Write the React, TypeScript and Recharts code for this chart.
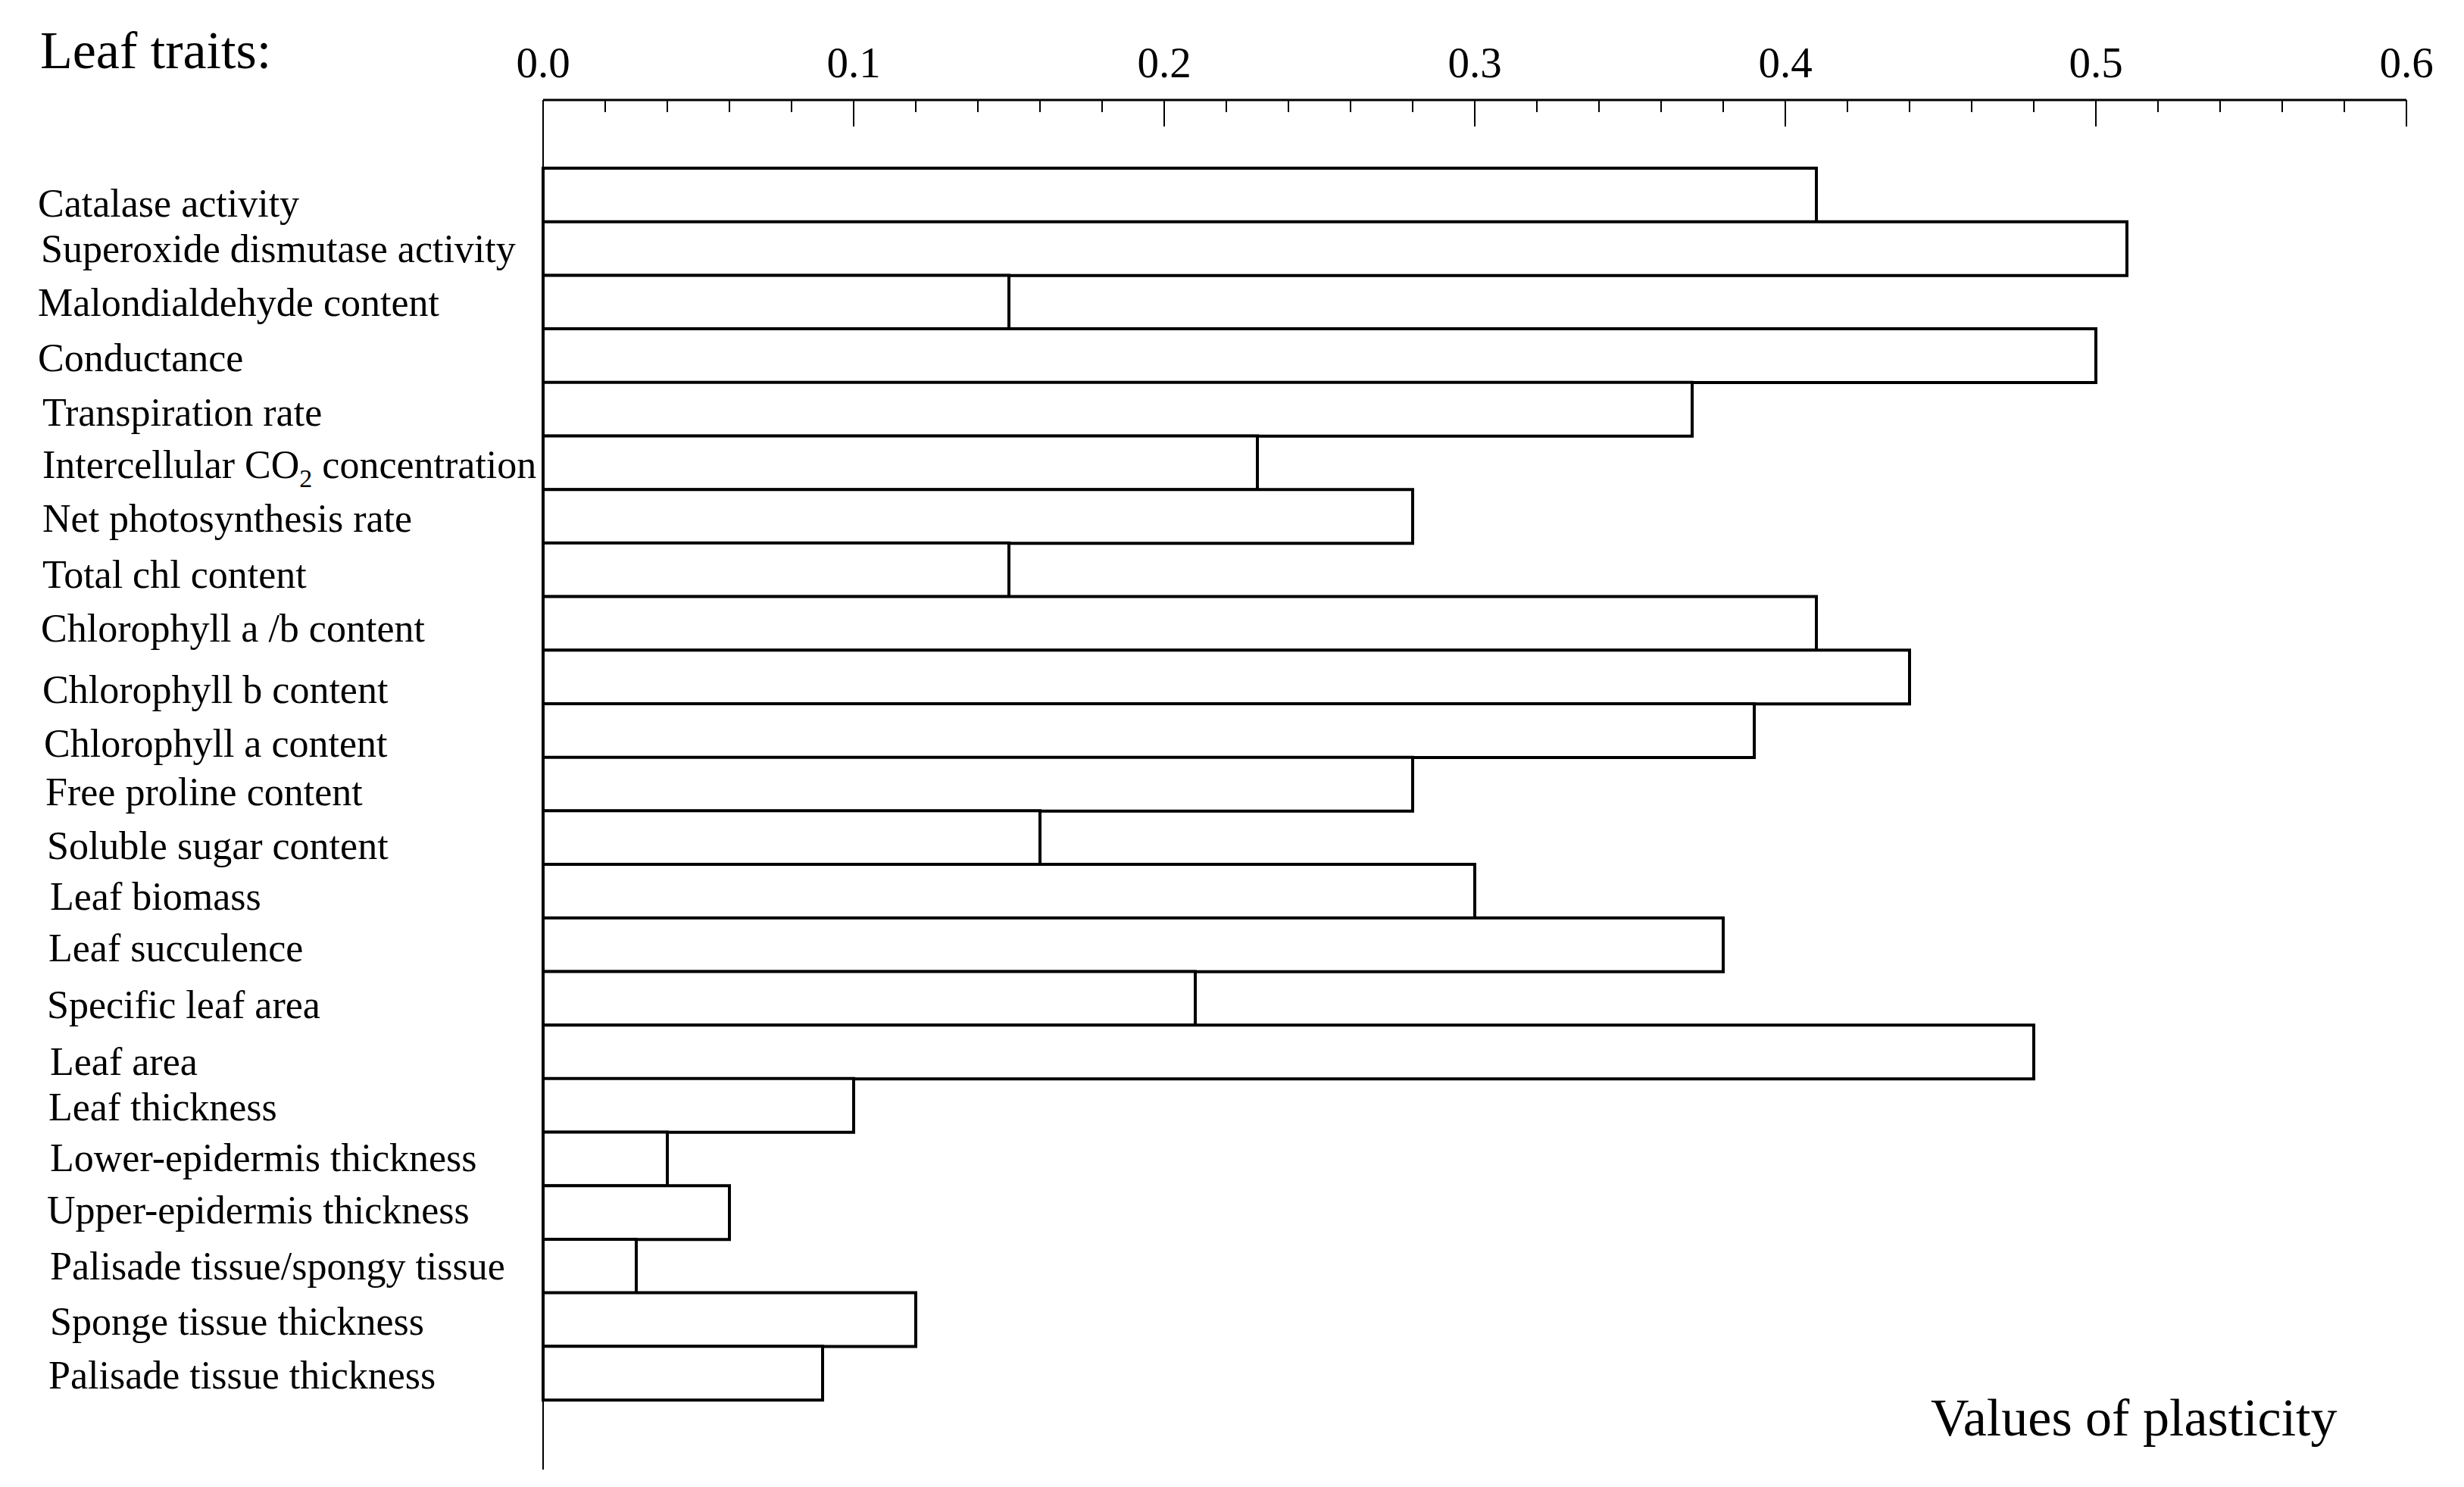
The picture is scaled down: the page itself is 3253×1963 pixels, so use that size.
import { Bar, BarChart, XAxis, YAxis } from "recharts";

const traits = [
  "Catalase activity",
  "Superoxide dismutase activity",
  "Malondialdehyde content",
  "Conductance",
  "Transpiration rate",
  "Intercellular CO2 concentration",
  "Net photosynthesis rate",
  "Total chl content",
  "Chlorophyll a /b content",
  "Chlorophyll b content",
  "Chlorophyll a content",
  "Free proline content",
  "Soluble sugar content",
  "Leaf biomass",
  "Leaf succulence",
  "Specific leaf area",
  "Leaf area",
  "Leaf thickness",
  "Lower-epidermis thickness",
  "Upper-epidermis thickness",
  "Palisade tissue/spongy tissue",
  "Sponge tissue thickness",
  "Palisade tissue thickness",
];

const plasticity = [
  0.41, 0.51, 0.15, 0.5, 0.37, 0.23, 0.28, 0.15, 0.41, 0.44, 0.39, 0.28, 0.16,
  0.3, 0.38, 0.21, 0.48, 0.1, 0.04, 0.06, 0.03, 0.12, 0.09,
];

const majorTicks = [0, 0.1, 0.2, 0.3, 0.4, 0.5, 0.6];
const minorPerMajor = 5;

// hand-placed labels in the original sit a little off the band centres
const labelShiftX = [-5, -1, -5, -5, 1, 1, 1, 1, -1, 1, 3, 5, 7, 11, 9, 7, 11, 9, 11, 7, 11, 11, 9];
const labelShiftY = [10, 0, 0, 2, 4, 2, 2, 6, 6, 16, 16, 10, 10, 6, 4, 8, 12, 2, -2, -4, 0, 2, 2];

const xTicks: number[] = [];
majorTicks.forEach((t, i) => {
  if (i === majorTicks.length - 1) {
    xTicks.push(t);
    return;
  }
  const step = (majorTicks[i + 1] - t) / minorPerMajor;
  for (let k = 0; k < minorPerMajor; k++) xTicks.push(+(t + k * step).toFixed(4));
});

const data = traits.map((name, i) => ({ name, value: plasticity[i] }));

const FONT = '"Liberation Serif", "Times New Roman", serif';
const W = 3253;
const H = 1963;

function XTick(props: any) {
  const { x, y, payload } = props;
  const v = payload.value as number;
  const major = majorTicks.some((m) => Math.abs(m - v) < 1e-6);
  return (
    <g>
      <line x1={x} x2={x} y1={y} y2={y + (major ? 35 : 16)} stroke="#000" strokeWidth={2} />
      {major && (
        <text x={x} y={y - 30} textAnchor="middle" fontFamily={FONT} fontSize={57} fill="#000">
          {v.toFixed(1)}
        </text>
      )}
    </g>
  );
}

function YTick(props: any) {
  const { x, y, payload, index } = props;
  const name = payload.value as string;
  const left = x - 662 + (labelShiftX[index] ?? 0);
  const ty = y + (labelShiftY[index] ?? 0);
  if (name.includes("CO2")) {
    const [a, b] = name.split("CO2");
    return (
      <text x={left} y={ty} dy="0.35em" fontFamily={FONT} fontSize={52} fill="#000">
        <tspan>{a}CO</tspan>
        <tspan dy={12} fontSize={34}>2</tspan>
        <tspan dy={-12}>{b}</tspan>
      </text>
    );
  }
  return (
    <text x={left} y={ty} dy="0.35em" fontFamily={FONT} fontSize={52} fill="#000">
      {name}
    </text>
  );
}

export default function App() {
  return (
    <div style={{ position: "absolute", left: 0, top: 0, width: W, height: H, background: "#fff" }}>
      <BarChart
        width={W}
        height={H}
        data={data}
        layout="vertical"
        barCategoryGap={0}
        margin={{ top: 0, right: 76, bottom: 23, left: 0 }}
      >
        <XAxis
          type="number"
          orientation="top"
          domain={[0, 0.6]}
          ticks={xTicks}
          interval={0}
          height={132}
          tickSize={0}
          tickMargin={0}
          tickLine={false}
          axisLine={{ stroke: "#000", strokeWidth: 3 }}
          tick={<XTick />}
        />
        <YAxis
          type="category"
          dataKey="name"
          width={717}
          interval={0}
          tickSize={0}
          tickMargin={0}
          tickLine={false}
          padding={{ top: 90, bottom: 92 }}
          axisLine={{ stroke: "#000", strokeWidth: 2 }}
          tick={<YTick />}
        />
        <Bar dataKey="value" fill="#fff" stroke="#000" strokeWidth={4} isAnimationActive={false} />
      </BarChart>
      <svg
        width={W}
        height={H}
        style={{ position: "absolute", left: 0, top: 0, pointerEvents: "none" }}
      >
        <text x={53} y={90} fontFamily={FONT} fontSize={70} fill="#000">
          Leaf traits:
        </text>
        <text x={2549} y={1895} fontFamily={FONT} fontSize={70} fill="#000">
          Values of plasticity
        </text>
      </svg>
    </div>
  );
}
